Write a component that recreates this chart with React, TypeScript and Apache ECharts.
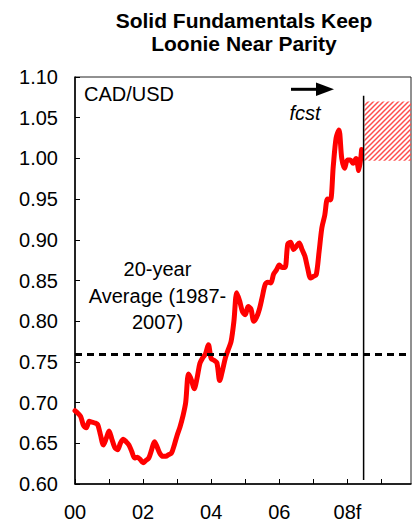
import React, { useEffect, useRef } from "react";
import * as echarts from "echarts";

// Monthly CAD/USD, index 0 = Jan 2000
const cadUsd: number[] = [
  0.690, 0.687, 0.683, 0.672, 0.669, 0.677, 0.676, 0.675, 0.673, 0.660,
  0.648, 0.656, 0.665, 0.655, 0.645, 0.642, 0.650, 0.655, 0.652, 0.648,
  0.640, 0.632, 0.633, 0.630, 0.626, 0.629, 0.632, 0.642, 0.652, 0.645,
  0.637, 0.634, 0.634, 0.636, 0.638, 0.648, 0.660, 0.670, 0.683, 0.700,
  0.735, 0.728, 0.717, 0.730, 0.748, 0.755, 0.760, 0.771, 0.754, 0.752,
  0.749, 0.727, 0.740, 0.755, 0.765, 0.775, 0.800, 0.835, 0.825, 0.812,
  0.808, 0.818, 0.815, 0.800, 0.805, 0.815, 0.830, 0.845, 0.848, 0.847,
  0.858, 0.863, 0.869, 0.866, 0.866, 0.895, 0.897, 0.888, 0.892, 0.896,
  0.888, 0.880, 0.865, 0.853, 0.855, 0.857, 0.885, 0.915, 0.930, 0.950,
  0.949, 0.990, 1.025, 1.035, 1.000, 0.988, 0.998, 0.998, 0.994, 1.000,
  0.985, 1.011,
];
const yearLabels: string[] = ["00", "02", "04", "06", "08f"];
const average20y = 0.757;
const forecastStart = 101.7; // months since Jan 2000
const forecastLineRange: number[] = [0.605, 1.077];
const forecastBand: number[] = [0.997, 1.07];
const xMax = 118.4;
const yMin = 0.6;
const yMax = 1.1;

const FONT = "'Liberation Sans', Arial, sans-serif";

const hatchSvg =
  "<svg xmlns='http://www.w3.org/2000/svg' width='5' height='5'>" +
  "<path d='M-1,1 L1,-1 M0,5 L5,0 M4,6 L6,4' stroke='#ff4d4d' stroke-width='1.5'/></svg>";
const hatchUrl = "data:image/svg+xml;charset=utf-8," + encodeURIComponent(hatchSvg);

export default function App() {
  const ref = useRef<HTMLDivElement>(null);
  useEffect(() => {
    if (!ref.current) return;
    const chart = echarts.init(ref.current, null, { renderer: "svg" });
    const lineData = cadUsd.map((v, i) => [i, v]);
    chart.setOption({
      animation: false,
      backgroundColor: "#fff",
      textStyle: { fontFamily: FONT },
      grid: {
        left: 75,
        right: 6,
        top: 77,
        bottom: 39,
        show: true,
        borderColor: "#222",
        borderWidth: 1,
        backgroundColor: "transparent",
      },
      xAxis: {
        type: "value",
        min: 0,
        max: xMax,
        interval: 12,
        axisLine: { lineStyle: { color: "#000", width: 1.5 } },
        axisTick: { inside: true, length: 5, lineStyle: { color: "#000" } },
        splitLine: { show: false },
        axisLabel: {
          margin: 18,
          color: "#000",
          fontSize: 20,
          fontFamily: FONT,
          showMaxLabel: false,
          formatter: (v: number) => {
            const r = Math.round(v);
            if (Math.abs(v - r) > 0.01 || r % 24 !== 0) return "";
            return yearLabels[r / 24] ?? "";
          },
        },
      },
      yAxis: {
        type: "value",
        min: yMin,
        max: yMax,
        interval: 0.05,
        axisLine: { show: true, lineStyle: { color: "#000", width: 1.5 } },
        axisTick: { show: true, inside: true, length: 5, lineStyle: { color: "#000" } },
        splitLine: { show: false },
        axisLabel: {
          margin: 17,
          color: "#000",
          fontSize: 20,
          fontFamily: FONT,
          formatter: (v: number) => v.toFixed(2),
        },
      },
      series: [
        {
          type: "line",
          data: lineData,
          symbol: "none",
          smooth: 0.3,
          lineStyle: { color: "#ff0000", width: 5, join: "round", cap: "round" },
          z: 3,
          markLine: {
            silent: true,
            symbol: "none",
            label: { show: false },
            lineStyle: { color: "#000", type: [7, 5], width: 3 },
            data: [{ yAxis: average20y }],
          },
          markArea: {
            silent: true,
            label: { show: false },
            itemStyle: {
              color: { image: hatchUrl, repeat: "repeat", imageWidth: 5, imageHeight: 5 },
            },
            data: [
              [
                { coord: [forecastStart + 0.3, forecastBand[1]] },
                { coord: [xMax, forecastBand[0]] },
              ],
            ],
          },
        },
        {
          type: "line",
          data: forecastLineRange.map((v) => [forecastStart, v]),
          symbol: "none",
          lineStyle: { color: "#000", width: 1.5 },
          z: 4,
        },
      ],
      graphic: [
        {
          type: "text",
          x: 244,
          y: 32,
          style: {
            text: "Solid Fundamentals Keep\nLoonie Near Parity",
            font: `bold 21px ${FONT}`,
            fill: "#000",
            align: "center",
            verticalAlign: "middle",
            lineHeight: 23.5,
          },
        },
        {
          type: "text",
          x: 84,
          y: 94,
          style: {
            text: "CAD/USD",
            font: `20px ${FONT}`,
            fill: "#000",
            align: "left",
            verticalAlign: "middle",
          },
        },
        {
          type: "text",
          x: 305,
          y: 113,
          style: {
            text: "fcst",
            font: `italic 20px ${FONT}`,
            fill: "#000",
            align: "center",
            verticalAlign: "middle",
          },
        },
        {
          type: "text",
          x: 157.5,
          y: 295.5,
          style: {
            text: "20-year\nAverage (1987-\n2007)",
            font: `20px ${FONT}`,
            fill: "#000",
            align: "center",
            verticalAlign: "middle",
            lineHeight: 26.5,
          },
        },
        {
          type: "line",
          shape: { x1: 291, y1: 89.3, x2: 320, y2: 89.3 },
          style: { stroke: "#000", lineWidth: 3 },
        },
        {
          type: "polygon",
          shape: { points: [[316, 82.5], [334, 89.3], [316, 96]] },
          style: { fill: "#000" },
        },
      ],
    });
    return () => chart.dispose();
  }, []);
  return (
    <div
      ref={ref}
      style={{ position: "fixed", left: 0, top: 0, width: 417, height: 523, background: "#fff" }}
    />
  );
}
